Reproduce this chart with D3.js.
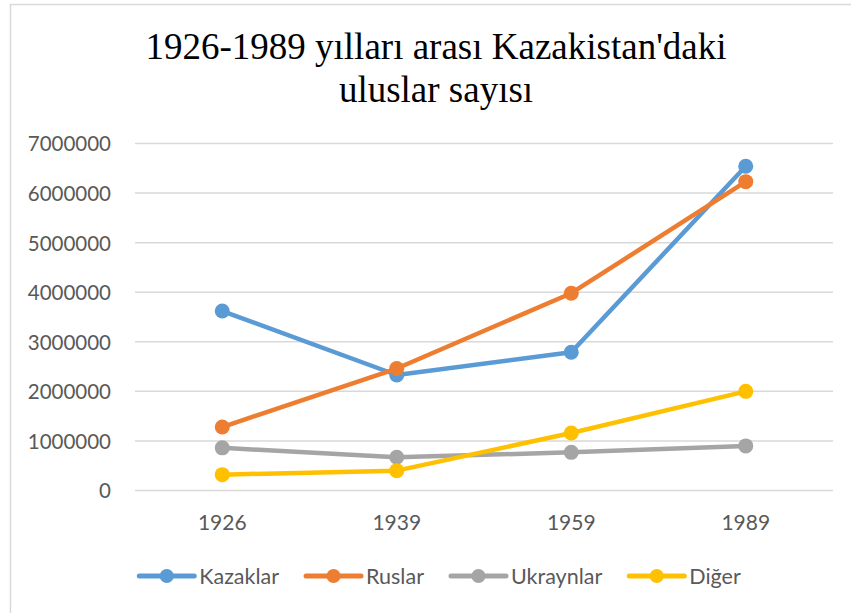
<!DOCTYPE html>
<html>
<head>
<meta charset="utf-8">
<script src="https://cdn.jsdelivr.net/npm/d3@7"></script>
<style>
  body { margin: 0; background: #fff; }
  svg { display: block; }
</style>
</head>
<body>
<svg width="851" height="613"></svg>
<script>
// Data
const years = ["1926", "1939", "1959", "1989"];
const seriesNames = ["Kazaklar", "Ruslar", "Ukraynlar", "Diğer"];
const kazaklar = [3620000, 2330000, 2790000, 6540000];
const ruslar = [1280000, 2460000, 3980000, 6230000];
const ukraynlar = [860000, 670000, 770000, 900000];
const diger = [320000, 400000, 1160000, 2000000];
const yTicks = [0, 1000000, 2000000, 3000000, 4000000, 5000000, 6000000, 7000000];
const colors = ["#5B9BD5", "#ED7D31", "#A5A5A5", "#FFC000"];

const allSeries = [kazaklar, ruslar, ukraynlar, diger];
const SANS = "Lato, 'Open Sans', sans-serif";

const svg = d3.select("svg");

// chart frame
svg.append("rect")
    .attr("x", 10.5).attr("y", 4.5)
    .attr("width", 880).attr("height", 640)
    .attr("fill", "#fff")
    .attr("stroke", "#d9d9d9")
    .attr("stroke-width", 1.5);

// Title (two lines)
const title = svg.append("text")
    .attr("text-anchor", "middle")
    .style("font-family", "'Liberation Serif', 'Times New Roman', serif")
    .style("font-size", "37px")
    .attr("fill", "#000");
title.append("tspan").attr("x", 436).attr("y", 59).text("1926-1989 yılları arası Kazakistan'daki");
title.append("tspan").attr("x", 436).attr("y", 102).text("uluslar sayısı");

// scales
const margin = { left: 135, right: 833, top: 143.5, bottom: 490.5 };

let xScale = d3.scaleBand()
    .domain(years)
    .range([margin.left, margin.right]);

let yScale = d3.scaleLinear()
    .domain([0, 7000000])
    .range([margin.bottom, margin.top]);

// gridlines
svg.append("g")
    .selectAll("line")
    .data(yTicks)
    .enter().append("line")
    .attr("x1", margin.left)
    .attr("x2", margin.right)
    .attr("y1", d => yScale(d))
    .attr("y2", d => yScale(d))
    .attr("stroke", "#d9d9d9")
    .attr("stroke-width", 1.5);

// y axis
const yAxis = svg.append("g")
    .attr("transform", "translate(" + (margin.left - 24) + ",0)")
    .call(d3.axisLeft(yScale).tickValues(yTicks).tickSize(0).tickPadding(0).tickFormat(d3.format("d")));
yAxis.select(".domain").remove();
yAxis.selectAll("text")
    .attr("fill", "#595959")
    .attr("dy", "0.36em")
    .style("font-family", SANS)
    .style("font-size", "20.5px");

// x axis
const xAxis = svg.append("g")
    .attr("transform", "translate(0," + margin.bottom + ")")
    .call(d3.axisBottom(xScale).tickSize(0).tickPadding(0));
xAxis.select(".domain").remove();
xAxis.selectAll("text")
    .attr("fill", "#595959")
    .attr("y", 39)
    .attr("dy", 0)
    .style("font-family", SANS)
    .style("font-size", "21px");

// lines and markers
const line = d3.line()
    .x((d, i) => xScale(years[i]) + xScale.bandwidth() / 2)
    .y(d => yScale(d));

allSeries.forEach(function (values, s) {
    const g = svg.append("g");
    g.append("path")
        .datum(values)
        .attr("d", line)
        .attr("fill", "none")
        .attr("stroke", colors[s])
        .attr("stroke-width", 4.5)
        .attr("stroke-linejoin", "round")
        .attr("stroke-linecap", "round");
    g.selectAll("circle")
        .data(values)
        .enter().append("circle")
        .attr("cx", (d, i) => xScale(years[i]) + xScale.bandwidth() / 2)
        .attr("cy", d => yScale(d))
        .attr("r", 7.5)
        .attr("fill", colors[s]);
});

// legend
const legend = svg.append("g");
const legendY = 576;
let items = [];
seriesNames.forEach(function (name, s) {
    const item = legend.append("g");
    item.append("line")
        .attr("x1", 0).attr("x2", 55)
        .attr("y1", legendY).attr("y2", legendY)
        .attr("stroke", colors[s])
        .attr("stroke-width", 5)
        .attr("stroke-linecap", "round");
    item.append("circle")
        .attr("cx", 27.5).attr("cy", legendY)
        .attr("r", 7)
        .attr("fill", colors[s]);
    const t = item.append("text")
        .attr("x", 60)
        .attr("y", legendY)
        .attr("dy", "0.36em")
        .attr("fill", "#595959")
        .style("font-family", SANS)
        .style("font-size", "21.5px")
        .text(name);
    items.push({ g: item, w: 60 + t.node().getComputedTextLength() });
});
const gap = 27;
const total = d3.sum(items, d => d.w) + gap * (items.length - 1);
let lx = 440 - total / 2;
items.forEach(function (it) {
    it.g.attr("transform", "translate(" + lx + ",0)");
    lx += it.w + gap;
});
</script>
</body>
</html>
